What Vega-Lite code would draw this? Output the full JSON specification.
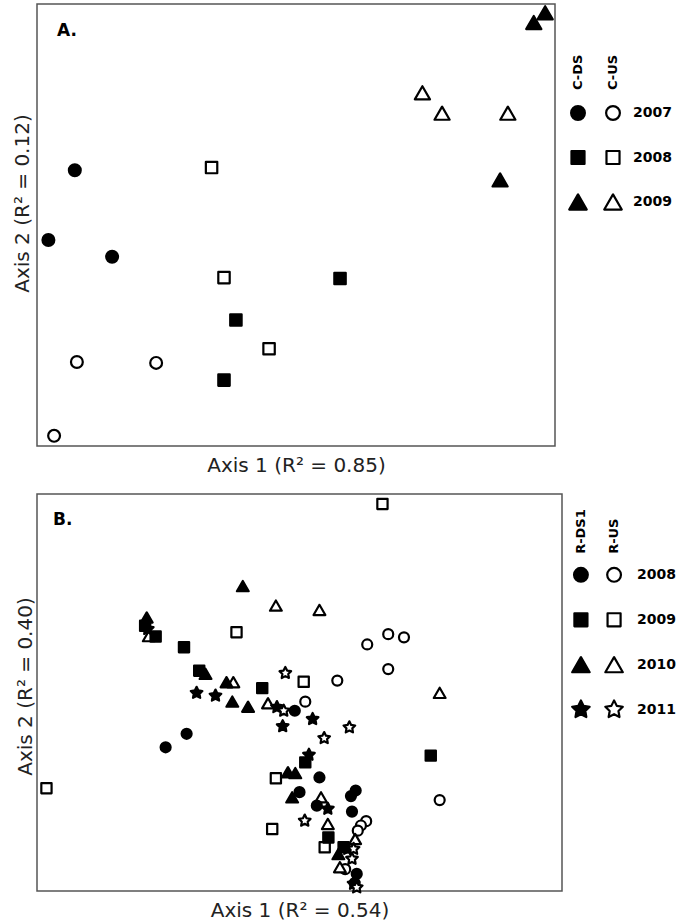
{
  "$schema": "https://vega.github.io/schema/vega-lite/v6.json",
  "padding": {"left": 11, "top": 3, "right": 0, "bottom": 0},
  "background": "white",
  "config": {
    "font": "DejaVu Sans",
    "view": {"stroke": "#555", "strokeWidth": 1.5},
    "axis": {"labels": false, "ticks": false, "domain": false, "grid": false, "titleFont": "DejaVu Sans", "titleFontSize": 20, "titleFontWeight": "normal", "titleColor": "#222"}
  },
  "resolve": {"scale": {"shape": "independent", "fill": "independent", "size": "independent"}},
  "spacing": 17,
  "align": "none",
  "vconcat": [
    {
      "spacing": 4,
      "resolve": {"scale": {"shape": "independent", "fill": "independent", "size": "independent"}},
      "hconcat": [
        {
          "width": 518,
          "height": 442,
          "title": {"text": "A.", "anchor": "start", "frame": "group", "orient": "top", "offset": -49, "dx": 20, "fontSize": 17, "fontWeight": "bold", "baseline": "alphabetic", "color": "black"},
          "data": {"values": [
            {"site": "C-DS", "year": "2007", "axis1": 7.3, "axis2": 62.4},
            {"site": "C-DS", "year": "2007", "axis1": 2.2, "axis2": 46.6},
            {"site": "C-DS", "year": "2007", "axis1": 14.5, "axis2": 42.8},
            {"site": "C-US", "year": "2007", "axis1": 7.7, "axis2": 19.0},
            {"site": "C-US", "year": "2007", "axis1": 23.0, "axis2": 18.8},
            {"site": "C-US", "year": "2007", "axis1": 3.3, "axis2": 2.3},
            {"site": "C-DS", "year": "2008", "axis1": 58.5, "axis2": 37.9},
            {"site": "C-DS", "year": "2008", "axis1": 38.4, "axis2": 28.5},
            {"site": "C-DS", "year": "2008", "axis1": 36.1, "axis2": 14.9},
            {"site": "C-US", "year": "2008", "axis1": 33.7, "axis2": 63.0},
            {"site": "C-US", "year": "2008", "axis1": 36.1, "axis2": 38.1},
            {"site": "C-US", "year": "2008", "axis1": 44.8, "axis2": 22.0},
            {"site": "C-DS", "year": "2009", "axis1": 89.4, "axis2": 60.2},
            {"site": "C-DS", "year": "2009", "axis1": 95.9, "axis2": 95.8},
            {"site": "C-DS", "year": "2009", "axis1": 98.1, "axis2": 98.0},
            {"site": "C-US", "year": "2009", "axis1": 74.4, "axis2": 79.9},
            {"site": "C-US", "year": "2009", "axis1": 78.2, "axis2": 75.3},
            {"site": "C-US", "year": "2009", "axis1": 90.9, "axis2": 75.3}
          ]},
          "mark": {"type": "point", "filled": true, "stroke": "black", "strokeWidth": 2.2, "strokeJoin": "round", "opacity": 1},
          "encoding": {
            "x": {"field": "axis1", "type": "quantitative", "scale": {"domain": [0, 100], "nice": false, "zero": false}, "axis": {"title": "Axis 1 (R² = 0.85)", "titlePadding": 9}},
            "y": {"field": "axis2", "type": "quantitative", "scale": {"domain": [0, 100], "nice": false, "zero": false}, "axis": {"title": "Axis 2 (R² = 0.12)", "titlePadding": 5, "titleY": 199}},
            "shape": {"field": "year", "type": "nominal", "scale": {"domain": ["2007", "2008", "2009"], "range": ["circle", "square", "triangle-up"]}, "legend": null},
            "fill": {"field": "site", "type": "nominal", "scale": {"domain": ["C-DS", "C-US"], "range": ["black", "white"]}, "legend": null},
            "size": {"field": "year", "type": "nominal", "scale": {"type": "ordinal", "domain": ["2007", "2008", "2009"], "range": [140, 130, 230]}, "legend": null}
          }
        },
        {
          "width": 71,
          "height": 307,
          "view": {"stroke": null},
          "layer": [
            {
              "data": {"values": [
                {"site": "C-DS", "year": 2007}, {"site": "C-US", "year": 2007},
                {"site": "C-DS", "year": 2008}, {"site": "C-US", "year": 2008},
                {"site": "C-DS", "year": 2009}, {"site": "C-US", "year": 2009}
              ]},
              "mark": {"type": "point", "filled": true, "stroke": "black", "strokeWidth": 2.2, "strokeJoin": "round", "opacity": 1},
              "encoding": {
                "x": {"field": "site", "type": "nominal", "scale": {"type": "point", "domain": ["C-DS", "C-US"], "padding": 0.514}, "axis": null},
                "y": {"field": "year", "type": "quantitative", "scale": {"domain": [2004.55, 2011.45], "reverse": true, "nice": false, "zero": false}, "axis": null},
                "shape": {"field": "year", "type": "nominal", "scale": {"domain": [2007, 2008, 2009], "range": ["circle", "square", "triangle-up"]}, "legend": null},
                "fill": {"field": "site", "type": "nominal", "scale": {"domain": ["C-DS", "C-US"], "range": ["black", "white"]}, "legend": null},
                "size": {"field": "year", "type": "nominal", "scale": {"type": "ordinal", "domain": [2007, 2008, 2009], "range": [190, 170, 306]}, "legend": null}
              }
            },
            {
              "data": {"values": [{"site": "C-DS"}, {"site": "C-US"}]},
              "mark": {"type": "text", "angle": 270, "align": "left", "baseline": "middle", "dx": 23, "fontSize": 13, "fontWeight": "bold", "color": "black"},
              "encoding": {
                "x": {"field": "site", "type": "nominal"},
                "y": {"datum": 2007},
                "text": {"field": "site"}
              }
            },
            {
              "data": {"values": [{"year": 2007}, {"year": 2008}, {"year": 2009}]},
              "mark": {"type": "text", "align": "left", "baseline": "middle", "dx": 20, "fontSize": 14, "fontWeight": "bold", "color": "black"},
              "encoding": {
                "x": {"datum": "C-US"},
                "y": {"field": "year", "type": "quantitative"},
                "text": {"field": "year", "type": "nominal"}
              }
            }
          ]
        }
      ]
    },
    {
      "spacing": 4,
      "resolve": {"scale": {"shape": "independent", "fill": "independent", "size": "independent"}},
      "hconcat": [
        {
          "width": 525,
          "height": 397,
          "title": {"text": "B.", "anchor": "start", "frame": "group", "orient": "top", "offset": -48, "dx": 16, "fontSize": 17, "fontWeight": "bold", "baseline": "alphabetic", "color": "black"},
          "data": {"values": [
            {"site": "R-US", "year": "2009", "axis1": 65.8, "axis2": 97.5},
            {"site": "R-US", "year": "2009", "axis1": 38.0, "axis2": 65.2},
            {"site": "R-US", "year": "2009", "axis1": 50.8, "axis2": 52.7},
            {"site": "R-US", "year": "2009", "axis1": 1.8, "axis2": 25.9},
            {"site": "R-US", "year": "2009", "axis1": 45.5, "axis2": 28.4},
            {"site": "R-US", "year": "2009", "axis1": 44.8, "axis2": 15.6},
            {"site": "R-US", "year": "2009", "axis1": 54.8, "axis2": 11.0},
            {"site": "R-US", "year": "2008", "axis1": 62.9, "axis2": 62.1},
            {"site": "R-US", "year": "2008", "axis1": 66.9, "axis2": 64.7},
            {"site": "R-US", "year": "2008", "axis1": 69.9, "axis2": 63.9},
            {"site": "R-US", "year": "2008", "axis1": 66.9, "axis2": 55.9},
            {"site": "R-US", "year": "2008", "axis1": 57.2, "axis2": 53.0},
            {"site": "R-US", "year": "2008", "axis1": 51.1, "axis2": 47.7},
            {"site": "R-US", "year": "2008", "axis1": 76.7, "axis2": 22.9},
            {"site": "R-US", "year": "2008", "axis1": 62.7, "axis2": 17.6},
            {"site": "R-US", "year": "2008", "axis1": 61.7, "axis2": 16.5},
            {"site": "R-US", "year": "2008", "axis1": 61.1, "axis2": 15.2},
            {"site": "R-US", "year": "2008", "axis1": 58.7, "axis2": 5.5},
            {"site": "R-US", "year": "2010", "axis1": 45.5, "axis2": 71.9},
            {"site": "R-US", "year": "2010", "axis1": 53.8, "axis2": 70.8},
            {"site": "R-US", "year": "2010", "axis1": 76.7, "axis2": 49.9},
            {"site": "R-US", "year": "2010", "axis1": 37.4, "axis2": 52.6},
            {"site": "R-US", "year": "2010", "axis1": 44.0, "axis2": 47.3},
            {"site": "R-US", "year": "2010", "axis1": 21.3, "axis2": 64.2},
            {"site": "R-US", "year": "2010", "axis1": 54.1, "axis2": 23.6},
            {"site": "R-US", "year": "2010", "axis1": 55.4, "axis2": 16.9},
            {"site": "R-US", "year": "2010", "axis1": 57.7, "axis2": 6.0},
            {"site": "R-US", "year": "2010", "axis1": 60.6, "axis2": 13.1},
            {"site": "R-DS1", "year": "2010", "axis1": 39.2, "axis2": 76.8},
            {"site": "R-DS1", "year": "2010", "axis1": 20.9, "axis2": 68.9},
            {"site": "R-DS1", "year": "2010", "axis1": 32.1, "axis2": 54.7},
            {"site": "R-DS1", "year": "2010", "axis1": 36.1, "axis2": 52.6},
            {"site": "R-DS1", "year": "2010", "axis1": 37.2, "axis2": 47.7},
            {"site": "R-DS1", "year": "2010", "axis1": 40.2, "axis2": 46.4},
            {"site": "R-DS1", "year": "2010", "axis1": 47.8, "axis2": 29.9},
            {"site": "R-DS1", "year": "2010", "axis1": 49.2, "axis2": 29.7},
            {"site": "R-DS1", "year": "2010", "axis1": 48.6, "axis2": 23.6},
            {"site": "R-DS1", "year": "2010", "axis1": 57.4, "axis2": 9.3},
            {"site": "R-DS1", "year": "2009", "axis1": 20.6, "axis2": 66.8},
            {"site": "R-DS1", "year": "2009", "axis1": 22.6, "axis2": 64.1},
            {"site": "R-DS1", "year": "2009", "axis1": 28.0, "axis2": 61.4},
            {"site": "R-DS1", "year": "2009", "axis1": 30.9, "axis2": 55.5},
            {"site": "R-DS1", "year": "2009", "axis1": 42.9, "axis2": 51.1},
            {"site": "R-DS1", "year": "2009", "axis1": 51.1, "axis2": 32.4},
            {"site": "R-DS1", "year": "2009", "axis1": 75.0, "axis2": 34.1},
            {"site": "R-DS1", "year": "2009", "axis1": 55.5, "axis2": 13.5},
            {"site": "R-DS1", "year": "2009", "axis1": 58.4, "axis2": 11.0},
            {"site": "R-DS1", "year": "2008", "axis1": 24.5, "axis2": 36.2},
            {"site": "R-DS1", "year": "2008", "axis1": 28.5, "axis2": 39.6},
            {"site": "R-DS1", "year": "2008", "axis1": 49.1, "axis2": 45.4},
            {"site": "R-DS1", "year": "2008", "axis1": 53.8, "axis2": 28.6},
            {"site": "R-DS1", "year": "2008", "axis1": 50.0, "axis2": 24.9},
            {"site": "R-DS1", "year": "2008", "axis1": 53.3, "axis2": 21.5},
            {"site": "R-DS1", "year": "2008", "axis1": 60.7, "axis2": 25.3},
            {"site": "R-DS1", "year": "2008", "axis1": 59.8, "axis2": 23.9},
            {"site": "R-DS1", "year": "2008", "axis1": 60.0, "axis2": 20.0},
            {"site": "R-DS1", "year": "2008", "axis1": 60.9, "axis2": 4.3},
            {"site": "R-DS1", "year": "2008", "axis1": 60.5, "axis2": 2.0},
            {"site": "R-DS1", "year": "2011", "axis1": 21.1, "axis2": 66.0},
            {"site": "R-DS1", "year": "2011", "axis1": 30.4, "axis2": 49.9},
            {"site": "R-DS1", "year": "2011", "axis1": 34.0, "axis2": 49.2},
            {"site": "R-DS1", "year": "2011", "axis1": 45.7, "axis2": 46.3},
            {"site": "R-DS1", "year": "2011", "axis1": 52.5, "axis2": 43.3},
            {"site": "R-DS1", "year": "2011", "axis1": 46.8, "axis2": 41.5},
            {"site": "R-DS1", "year": "2011", "axis1": 51.8, "axis2": 34.3},
            {"site": "R-DS1", "year": "2011", "axis1": 55.4, "axis2": 20.7},
            {"site": "R-DS1", "year": "2011", "axis1": 59.2, "axis2": 10.6},
            {"site": "R-DS1", "year": "2011", "axis1": 60.3, "axis2": 1.8},
            {"site": "R-US", "year": "2011", "axis1": 47.3, "axis2": 54.9},
            {"site": "R-US", "year": "2011", "axis1": 59.5, "axis2": 41.2},
            {"site": "R-US", "year": "2011", "axis1": 54.7, "axis2": 38.5},
            {"site": "R-US", "year": "2011", "axis1": 47.0, "axis2": 45.4},
            {"site": "R-US", "year": "2011", "axis1": 51.0, "axis2": 17.7},
            {"site": "R-US", "year": "2011", "axis1": 60.3, "axis2": 10.6},
            {"site": "R-US", "year": "2011", "axis1": 60.0, "axis2": 8.1},
            {"site": "R-US", "year": "2011", "axis1": 60.9, "axis2": 0.9}
          ]},
          "mark": {"type": "point", "filled": true, "stroke": "black", "strokeWidth": 2.2, "strokeJoin": "round", "opacity": 1},
          "encoding": {
            "x": {"field": "axis1", "type": "quantitative", "scale": {"domain": [0, 100], "nice": false, "zero": false}, "axis": {"title": "Axis 1 (R² = 0.54)", "titlePadding": 9}},
            "y": {"field": "axis2", "type": "quantitative", "scale": {"domain": [0, 100], "nice": false, "zero": false}, "axis": {"title": "Axis 2 (R² = 0.40)", "titlePadding": 2, "titleY": 192}},
            "shape": {"field": "year", "type": "nominal", "scale": {"domain": ["2008", "2009", "2010", "2011"], "range": ["circle", "square", "triangle-up", "M0,-1L0.2939,-0.4045L0.9511,-0.309L0.4755,0.1545L0.5878,0.809L0,0.5L-0.5878,0.809L-0.4755,0.1545L-0.9511,-0.309L-0.2939,-0.4045Z"]}, "legend": null},
            "fill": {"field": "site", "type": "nominal", "scale": {"domain": ["R-DS1", "R-US"], "range": ["black", "white"]}, "legend": null},
            "size": {"field": "year", "type": "nominal", "scale": {"type": "ordinal", "domain": ["2008", "2009", "2010", "2011"], "range": [100, 105, 140, 150]}, "legend": null}
          }
        },
        {
          "width": 61,
          "height": 296,
          "view": {"stroke": null},
          "layer": [
            {
              "data": {"values": [
                {"site": "R-DS1", "year": 2008}, {"site": "R-US", "year": 2008},
                {"site": "R-DS1", "year": 2009}, {"site": "R-US", "year": 2009},
                {"site": "R-DS1", "year": 2010}, {"site": "R-US", "year": 2010},
                {"site": "R-DS1", "year": 2011}, {"site": "R-US", "year": 2011}
              ]},
              "mark": {"type": "point", "filled": true, "stroke": "black", "strokeWidth": 2.2, "strokeJoin": "round", "opacity": 1},
              "encoding": {
                "x": {"field": "site", "type": "nominal", "scale": {"type": "point", "domain": ["R-DS1", "R-US"], "padding": 0.42}, "axis": null},
                "y": {"field": "year", "type": "quantitative", "scale": {"domain": [2006.2, 2012.79], "reverse": true, "nice": false, "zero": false}, "axis": null},
                "shape": {"field": "year", "type": "nominal", "scale": {"domain": [2008, 2009, 2010, 2011], "range": ["circle", "square", "triangle-up", "M0,-1L0.2939,-0.4045L0.9511,-0.309L0.4755,0.1545L0.5878,0.809L0,0.5L-0.5878,0.809L-0.4755,0.1545L-0.9511,-0.309L-0.2939,-0.4045Z"]}, "legend": null},
                "fill": {"field": "site", "type": "nominal", "scale": {"domain": ["R-DS1", "R-US"], "range": ["black", "white"]}, "legend": null},
                "size": {"field": "year", "type": "nominal", "scale": {"type": "ordinal", "domain": [2008, 2009, 2010, 2011], "range": [190, 170, 306, 340]}, "legend": null}
              }
            },
            {
              "data": {"values": [{"site": "R-DS1"}, {"site": "R-US"}]},
              "mark": {"type": "text", "angle": 270, "align": "left", "baseline": "middle", "dx": 21, "fontSize": 13, "fontWeight": "bold", "color": "black"},
              "encoding": {
                "x": {"field": "site", "type": "nominal"},
                "y": {"datum": 2008},
                "text": {"field": "site"}
              }
            },
            {
              "data": {"values": [{"year": 2008}, {"year": 2009}, {"year": 2010}, {"year": 2011}]},
              "mark": {"type": "text", "align": "left", "baseline": "middle", "dx": 23, "fontSize": 14, "fontWeight": "bold", "color": "black"},
              "encoding": {
                "x": {"datum": "R-US"},
                "y": {"field": "year", "type": "quantitative"},
                "text": {"field": "year", "type": "nominal"}
              }
            }
          ]
        }
      ]
    }
  ]
}
